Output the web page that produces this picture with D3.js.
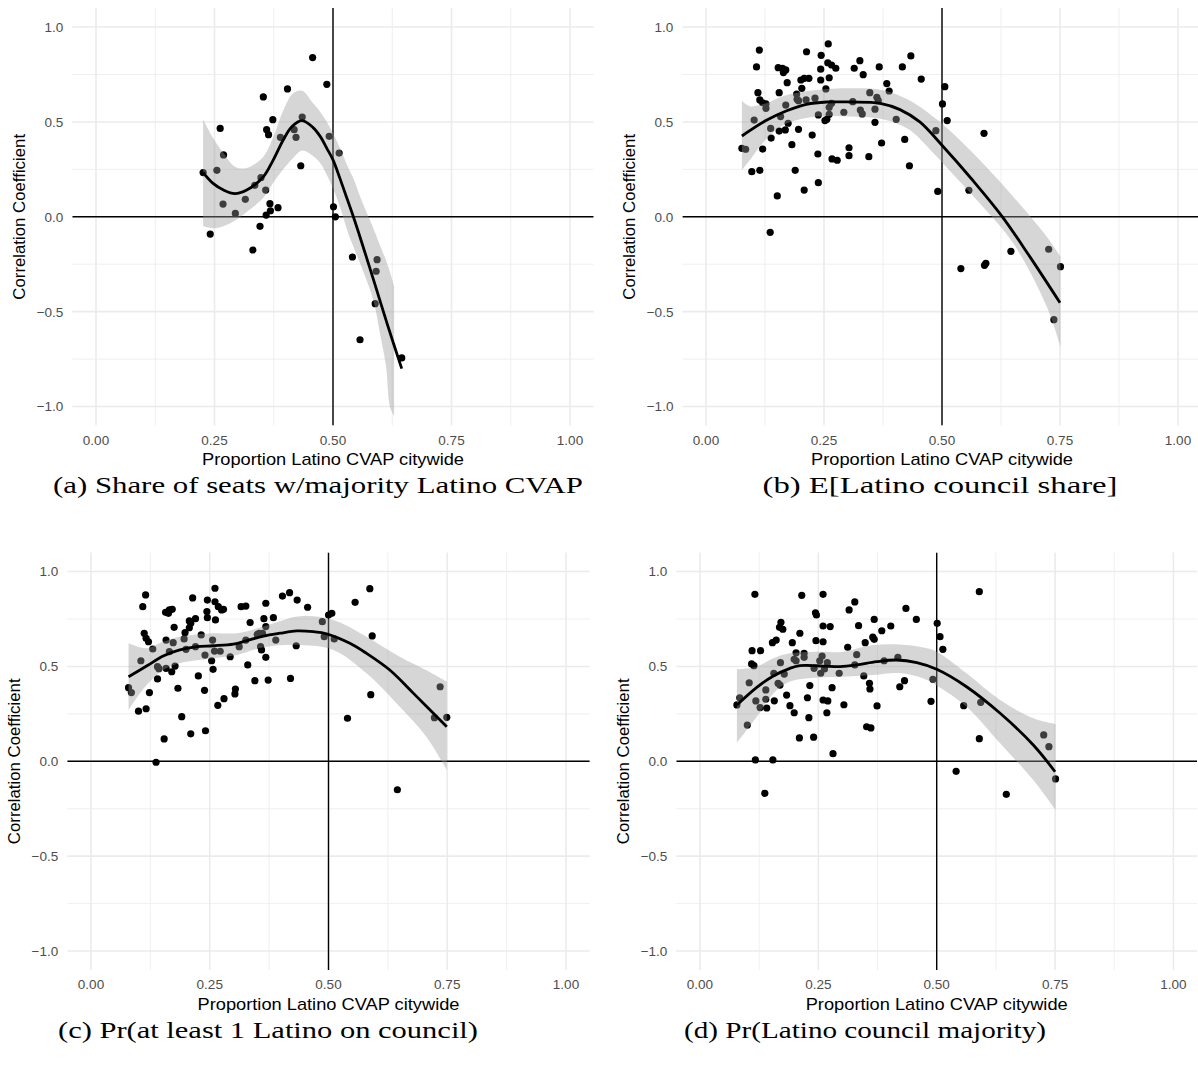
<!DOCTYPE html>
<html>
<head>
<meta charset="utf-8">
<script src="https://cdn.jsdelivr.net/npm/d3@7"></script>
<style>
  html, body { margin: 0; padding: 0; background: #ffffff; }
  svg { display: block; }
</style>
</head>
<body>
<svg id="chart" width="1198" height="1068"></svg>
<script>
// ---- axis ticks -------------------------------------------------------
const xTicks = [0, 0.25, 0.5, 0.75, 1];
const xTickLabels = ["0.00", "0.25", "0.50", "0.75", "1.00"];
const xMinorTicks = [0.125, 0.375, 0.625, 0.875];
const yTicks = [-1, -0.5, 0, 0.5, 1];
const yTickLabels = ["\u22121.0", "\u22120.5", "0.0", "0.5", "1.0"];
const yMinorTicks = [-0.75, -0.25, 0.25, 0.75];
const xTitle = "Proportion Latino CVAP citywide";
const yTitle = "Correlation Coefficient";
const captions = [
  "(a) Share of seats w/majority Latino CVAP",
  "(b) E[Latino council share]",
  "(c) Pr(at least 1 Latino on council)",
  "(d) Pr(Latino council majority)"
];

// ---- (a) share of seats with majority Latino CVAP ----------------------
const aPtsX = [0.457,0.487,0.404,0.353,0.373,0.262,0.360,0.364,0.435,0.418,0.389,0.422,0.492,0.513,0.269,0.432,0.226,0.255,0.348,0.335,0.358,0.315,0.268,0.367,0.384,0.368,0.359,0.294,0.501,0.505,0.346,0.241,0.331,0.541,0.593,0.591,0.589,0.557,0.645];
const aPtsY = [0.839,0.698,0.674,0.632,0.512,0.466,0.459,0.433,0.526,0.459,0.419,0.419,0.424,0.336,0.326,0.269,0.233,0.245,0.206,0.166,0.141,0.092,0.067,0.069,0.048,0.032,0.009,0.018,0.053,0.000,-0.050,-0.091,-0.175,-0.212,-0.226,-0.287,-0.458,-0.648,-0.744];
const aFitX = [0.226,0.247,0.269,0.293,0.318,0.353,0.374,0.395,0.413,0.435,0.458,0.474,0.487,0.500,0.515,0.529,0.543,0.560,0.589,0.615,0.645];
const aFitY = [0.233,0.176,0.141,0.122,0.141,0.211,0.300,0.405,0.475,0.507,0.470,0.420,0.361,0.300,0.200,0.100,0.000,-0.130,-0.360,-0.570,-0.800];
const aBandX  = [0.226,0.247,0.269,0.293,0.318,0.353,0.374,0.395,0.416,0.435,0.458,0.474,0.487,0.500,0.515,0.532,0.545,0.560,0.585,0.599,0.612,0.620,0.629];
const aBandHi = [0.514,0.415,0.336,0.264,0.257,0.317,0.420,0.560,0.651,0.665,0.598,0.550,0.500,0.440,0.360,0.260,0.190,0.088,-0.060,-0.150,-0.230,-0.290,-0.368];
const aBandLo = [-0.050,-0.060,-0.050,-0.020,0.025,0.100,0.180,0.250,0.310,0.349,0.320,0.280,0.220,0.150,0.050,-0.087,-0.170,-0.263,-0.439,-0.614,-0.790,-1.000,-1.050];

// ---- (b) expected Latino council share ---------------------------------
const bPtsX = [0.113,0.107,0.259,0.213,0.244,0.258,0.266,0.275,0.243,0.153,0.162,0.169,0.164,0.326,0.314,0.367,0.333,0.416,0.434,0.456,0.243,0.261,0.201,0.208,0.218,0.172,0.110,0.155,0.192,0.203,0.254,0.383,0.388,0.347,0.114,0.120,0.127,0.127,0.193,0.196,0.212,0.231,0.169,0.261,0.266,0.311,0.292,0.327,0.331,0.358,0.362,0.365,0.261,0.238,0.256,0.252,0.158,0.174,0.102,0.137,0.155,0.168,0.196,0.358,0.403,0.225,0.138,0.182,0.120,0.076,0.084,0.421,0.372,0.487,0.303,0.303,0.237,0.267,0.278,0.345,0.431,0.097,0.114,0.189,0.238,0.151,0.208,0.491,0.136,0.506,0.501,0.511,0.589,0.557,0.646,0.726,0.751,0.540,0.590,0.593,0.737];
const bPtsY = [0.879,0.790,0.911,0.870,0.851,0.812,0.800,0.783,0.778,0.786,0.783,0.774,0.760,0.823,0.783,0.790,0.749,0.790,0.848,0.726,0.721,0.733,0.721,0.730,0.730,0.707,0.654,0.654,0.647,0.677,0.674,0.702,0.663,0.654,0.616,0.601,0.595,0.572,0.619,0.612,0.616,0.625,0.589,0.577,0.598,0.607,0.551,0.563,0.542,0.567,0.630,0.612,0.540,0.537,0.514,0.507,0.528,0.493,0.510,0.466,0.452,0.458,0.461,0.498,0.514,0.431,0.415,0.380,0.357,0.361,0.356,0.408,0.389,0.454,0.364,0.322,0.331,0.305,0.298,0.317,0.269,0.238,0.245,0.245,0.180,0.110,0.141,0.134,-0.082,0.686,0.595,0.507,0.440,0.140,-0.182,-0.171,-0.263,-0.273,-0.256,-0.245,-0.542];
const bFitX = [0.076,0.129,0.171,0.213,0.256,0.305,0.369,0.411,0.453,0.499,0.566,0.628,0.686,0.750];
const bFitY = [0.426,0.510,0.559,0.593,0.605,0.605,0.598,0.565,0.500,0.380,0.190,0.000,-0.210,-0.453];
const bBandX  = [0.076,0.093,0.129,0.164,0.234,0.305,0.372,0.430,0.480,0.510,0.580,0.651,0.722,0.751];
const bBandHi = [0.612,0.583,0.600,0.637,0.668,0.677,0.668,0.615,0.530,0.470,0.300,0.106,-0.105,-0.210];
const bBandLo = [0.247,0.300,0.414,0.484,0.528,0.528,0.515,0.460,0.340,0.260,0.071,-0.140,-0.474,-0.685];

// ---- (c) probability of at least one Latino on council -----------------
const cPtsX = [0.261,0.115,0.109,0.214,0.245,0.261,0.418,0.403,0.434,0.456,0.316,0.326,0.368,0.157,0.165,0.171,0.163,0.268,0.275,0.279,0.244,0.245,0.262,0.220,0.207,0.210,0.207,0.198,0.175,0.335,0.364,0.384,0.368,0.354,0.361,0.487,0.112,0.116,0.121,0.130,0.158,0.173,0.196,0.232,0.256,0.220,0.200,0.165,0.260,0.272,0.240,0.293,0.312,0.326,0.350,0.357,0.359,0.389,0.432,0.491,0.368,0.105,0.140,0.143,0.177,0.170,0.158,0.254,0.257,0.330,0.140,0.226,0.345,0.373,0.420,0.079,0.085,0.123,0.183,0.239,0.304,0.303,0.280,0.267,0.100,0.116,0.191,0.210,0.241,0.154,0.137,0.500,0.587,0.556,0.507,0.512,0.592,0.735,0.589,0.540,0.723,0.749,0.645];
const cPtsY = [0.912,0.877,0.815,0.861,0.850,0.841,0.889,0.871,0.850,0.812,0.815,0.818,0.833,0.785,0.798,0.801,0.780,0.815,0.798,0.801,0.789,0.757,0.745,0.752,0.740,0.727,0.704,0.678,0.706,0.731,0.752,0.757,0.710,0.675,0.675,0.736,0.675,0.648,0.630,0.592,0.639,0.625,0.645,0.666,0.639,0.604,0.590,0.578,0.581,0.580,0.560,0.551,0.604,0.639,0.669,0.604,0.587,0.639,0.609,0.657,0.548,0.530,0.499,0.488,0.502,0.472,0.490,0.530,0.485,0.508,0.434,0.450,0.425,0.428,0.437,0.388,0.362,0.362,0.385,0.374,0.381,0.355,0.330,0.295,0.264,0.277,0.235,0.145,0.161,0.118,-0.005,0.771,0.910,0.838,0.780,0.645,0.661,0.393,0.351,0.227,0.230,0.232,-0.150];
const cFitX = [0.079,0.117,0.152,0.187,0.223,0.257,0.300,0.328,0.363,0.398,0.433,0.468,0.496,0.545,0.580,0.629,0.679,0.749];
const cFitY = [0.446,0.502,0.555,0.587,0.604,0.609,0.618,0.636,0.660,0.675,0.687,0.683,0.672,0.622,0.569,0.481,0.358,0.182];
const cBandX  = [0.079,0.117,0.152,0.187,0.258,0.307,0.363,0.440,0.510,0.580,0.650,0.706,0.749];
const cBandHi = [0.622,0.596,0.630,0.657,0.675,0.675,0.710,0.764,0.745,0.657,0.551,0.480,0.420];
const cBandLo = [0.270,0.402,0.481,0.517,0.543,0.560,0.601,0.613,0.587,0.464,0.288,0.130,-0.046];

// ---- (d) probability of a Latino council majority ----------------------
const dPtsX = [0.116,0.215,0.260,0.327,0.315,0.435,0.457,0.244,0.246,0.368,0.171,0.168,0.175,0.260,0.275,0.335,0.403,0.384,0.211,0.365,0.368,0.349,0.153,0.161,0.245,0.260,0.195,0.312,0.110,0.128,0.203,0.220,0.220,0.199,0.203,0.170,0.258,0.253,0.269,0.331,0.327,0.389,0.418,0.109,0.114,0.241,0.263,0.255,0.294,0.346,0.156,0.178,0.165,0.104,0.169,0.139,0.232,0.279,0.358,0.359,0.422,0.432,0.492,0.084,0.078,0.118,0.139,0.157,0.183,0.227,0.260,0.270,0.304,0.374,0.488,0.127,0.141,0.190,0.199,0.268,0.230,0.100,0.352,0.361,0.210,0.240,0.281,0.117,0.154,0.137,0.501,0.590,0.507,0.513,0.557,0.593,0.590,0.726,0.737,0.751,0.541,0.647];
const dPtsY = [0.880,0.875,0.880,0.840,0.798,0.806,0.748,0.783,0.771,0.748,0.733,0.706,0.696,0.713,0.710,0.715,0.713,0.688,0.675,0.654,0.643,0.625,0.625,0.639,0.636,0.630,0.625,0.601,0.583,0.583,0.572,0.569,0.548,0.538,0.530,0.520,0.555,0.530,0.520,0.562,0.508,0.530,0.548,0.513,0.504,0.490,0.487,0.464,0.464,0.450,0.464,0.460,0.411,0.414,0.402,0.376,0.399,0.388,0.411,0.381,0.393,0.425,0.432,0.335,0.297,0.318,0.327,0.319,0.349,0.335,0.323,0.318,0.298,0.292,0.316,0.283,0.281,0.293,0.256,0.256,0.230,0.191,0.182,0.176,0.123,0.127,0.040,0.007,0.007,-0.169,0.727,0.894,0.657,0.590,0.293,0.311,0.119,0.139,0.077,-0.093,-0.053,-0.174];
const dFitX = [0.078,0.120,0.155,0.190,0.211,0.260,0.296,0.331,0.373,0.415,0.458,0.500,0.563,0.634,0.704,0.750];
const dFitY = [0.297,0.390,0.450,0.490,0.504,0.502,0.499,0.508,0.525,0.534,0.520,0.485,0.393,0.253,0.086,-0.055];
const dBandX  = [0.078,0.120,0.155,0.190,0.260,0.296,0.366,0.420,0.472,0.500,0.563,0.634,0.704,0.751];
const dBandHi = [0.485,0.499,0.543,0.569,0.578,0.575,0.613,0.616,0.600,0.578,0.464,0.323,0.227,0.197];
const dBandLo = [0.098,0.235,0.358,0.420,0.443,0.445,0.455,0.465,0.437,0.400,0.288,0.095,-0.099,-0.257];

// ---- panel frames (pixel boxes of each plotting area) -----------------
const panels = [
  { pts: [aPtsX, aPtsY], fit: [aFitX, aFitY], band: [aBandX, aBandLo, aBandHi],
    box: { l: 72.3, r: 593.7, t: 8.1, b: 425.5 }, cap: { x: 318, y: 493, w: 530 } },
  { pts: [bPtsX, bPtsY], fit: [bFitX, bFitY], band: [bBandX, bBandLo, bBandHi],
    box: { l: 682.4, r: 1201.6, t: 8.1, b: 425.5 }, cap: { x: 940, y: 493, w: 355 } },
  { pts: [cPtsX, cPtsY], fit: [cFitX, cFitY], band: [cBandX, cBandLo, cBandHi],
    box: { l: 67.25, r: 589.75, t: 552.6, b: 970 }, cap: { x: 268, y: 1038, w: 420 } },
  { pts: [dPtsX, dPtsY], fit: [dFitX, dFitY], band: [dBandX, dBandLo, dBandHi],
    box: { l: 676.3, r: 1197.1, t: 552.6, b: 970 }, cap: { x: 865, y: 1038, w: 362 } }
];

const svg = d3.select("#chart");
const sansFont = "'Liberation Sans', Arial, Helvetica, sans-serif";
const serifFont = "'Liberation Serif', 'Times New Roman', serif";

panels.forEach((p, i) => {
  const { l, r, t, b } = p.box;
  const x = d3.scaleLinear().domain([-0.05, 1.05]).range([l, r]);
  const y = d3.scaleLinear().domain([-1.1, 1.1]).range([b, t]);
  const g = svg.append("g");

  const clipId = "clip" + i;
  svg.append("clipPath").attr("id", clipId)
    .append("rect").attr("x", l).attr("y", t).attr("width", r - l).attr("height", b - t);

  // minor grid
  g.selectAll(".xminor").data(xMinorTicks).join("line")
    .attr("x1", d => x(d)).attr("x2", d => x(d)).attr("y1", t).attr("y2", b)
    .attr("stroke", "#ebebeb").attr("stroke-width", 0.8);
  g.selectAll(".yminor").data(yMinorTicks).join("line")
    .attr("x1", l).attr("x2", r).attr("y1", d => y(d)).attr("y2", d => y(d))
    .attr("stroke", "#ebebeb").attr("stroke-width", 0.8);
  // major grid
  g.selectAll(".xmajor").data(xTicks).join("line")
    .attr("x1", d => x(d)).attr("x2", d => x(d)).attr("y1", t).attr("y2", b)
    .attr("stroke", "#ebebeb").attr("stroke-width", 1.6);
  g.selectAll(".ymajor").data(yTicks).join("line")
    .attr("x1", l).attr("x2", r).attr("y1", d => y(d)).attr("y2", d => y(d))
    .attr("stroke", "#ebebeb").attr("stroke-width", 1.6);

  const plot = g.append("g").attr("clip-path", `url(#${clipId})`);

  // reference lines
  plot.append("line").attr("x1", l).attr("x2", r).attr("y1", y(0)).attr("y2", y(0))
    .attr("stroke", "#000").attr("stroke-width", 1.4);
  plot.append("line").attr("x1", x(0.5)).attr("x2", x(0.5)).attr("y1", t).attr("y2", b)
    .attr("stroke", "#000").attr("stroke-width", 1.4);

  // points
  const [px, py] = p.pts;
  plot.selectAll("circle").data(px.map((v, k) => [v, py[k]])).join("circle")
    .attr("cx", d => x(d[0])).attr("cy", d => y(d[1])).attr("r", 3.6)
    .attr("fill", "#000");

  // confidence band
  const [bx, blo, bhi] = p.band;
  const area = d3.area().curve(d3.curveCatmullRom.alpha(0.5))
    .x(d => x(d[0])).y0(d => y(d[1])).y1(d => y(d[2]));
  plot.append("path").datum(bx.map((v, k) => [v, blo[k], bhi[k]]))
    .attr("d", area).attr("fill", "#999999").attr("fill-opacity", 0.4);

  // smooth fit
  const [fx, fy] = p.fit;
  const line = d3.line().curve(d3.curveCatmullRom.alpha(0.5))
    .x(d => x(d[0])).y(d => y(d[1]));
  plot.append("path").datum(fx.map((v, k) => [v, fy[k]]))
    .attr("d", line).attr("fill", "none").attr("stroke", "#000").attr("stroke-width", 2.8);

  // tick labels
  g.selectAll(".xlab").data(xTicks).join("text")
    .attr("x", d => x(d)).attr("y", b + 19)
    .attr("text-anchor", "middle").attr("font-family", sansFont).attr("font-size", 13.5)
    .attr("fill", "#4d4d4d").text((d, k) => xTickLabels[k]);
  g.selectAll(".ylab").data(yTicks).join("text")
    .attr("x", l - 9).attr("y", d => y(d)).attr("dy", "0.36em")
    .attr("text-anchor", "end").attr("font-family", sansFont).attr("font-size", 13.5)
    .attr("fill", "#4d4d4d").text((d, k) => yTickLabels[k]);

  // axis titles
  const cx = (x(-0.05) + x(1.05)) / 2;
  g.append("text").attr("x", cx - 131).attr("y", b + 39.5)
    .attr("font-family", sansFont).attr("font-size", 17)
    .attr("textLength", 262).attr("lengthAdjust", "spacingAndGlyphs")
    .attr("fill", "#000").text(xTitle);
  g.append("text")
    .attr("transform", `translate(${l - 47},${(t + b) / 2}) rotate(-90)`)
    .attr("text-anchor", "middle").attr("font-family", sansFont).attr("font-size", 16.8)
    .attr("fill", "#000").text(yTitle);

  // caption
  svg.append("text").attr("x", p.cap.x - p.cap.w / 2).attr("y", p.cap.y)
    .attr("font-family", serifFont).attr("font-size", 24)
    .attr("textLength", p.cap.w).attr("lengthAdjust", "spacingAndGlyphs")
    .attr("fill", "#000").text(captions[i]);
});
</script>
</body>
</html>
